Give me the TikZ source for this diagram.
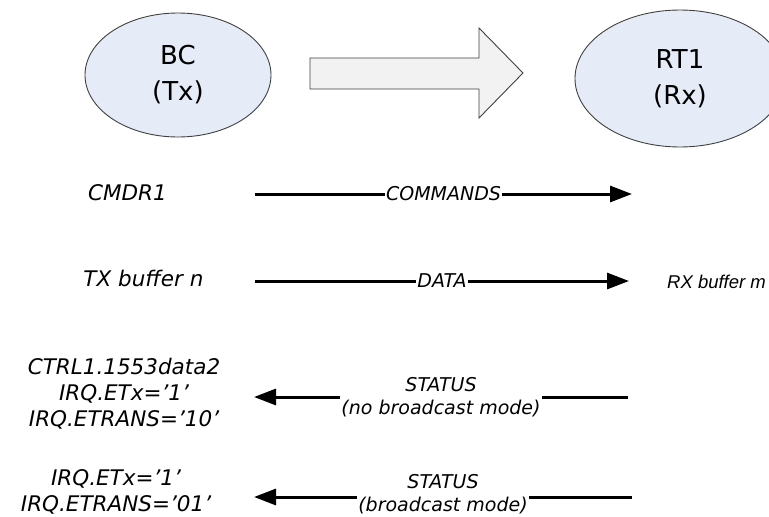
\documentclass[tikz,border=0pt]{standalone}
\usepackage{fontspec}
\setmainfont{DejaVu Sans}
\newfontfamily\arialfont{Liberation Sans}
\usetikzlibrary{shapes.geometric,arrows.meta}
\definecolor{bubblefill}{HTML}{E6ECF7}
\definecolor{arrowfill}{HTML}{F2F2F2}
\definecolor{edgegray}{HTML}{404040}
\begin{document}
\begin{tikzpicture}[x=1pt,y=-1pt,
  bubble/.style={ellipse, draw=edgegray, line width=0.9pt, fill=bubblefill, inner sep=0pt, align=center, font=\fontsize{26}{36}\selectfont},
  lbl/.style={font=\itshape\fontsize{21.5}{26}\selectfont, align=center, inner sep=0pt},
  flowlbl/.style={font=\itshape\fontsize{19}{23}\selectfont, align=center, fill=white, inner sep=1pt},
  flow/.style={line width=3pt, -{Triangle[length=22pt,width=16pt]}}]
\useasboundingbox (0,0) rectangle (769,517);
\clip (0,0) rectangle (769,517);

% top: ellipses and block arrow
\node[bubble, minimum width=186pt, minimum height=124pt] (bc) at (178,75) {BC\\(Tx)};
\node[bubble, minimum width=210pt, minimum height=137pt] (rt) at (680,78.5) {RT1\\(Rx)};
\draw[draw=edgegray, line width=0.9pt, fill=arrowfill, line join=miter]
  (310,58) -- (479,58) -- (479,28) -- (523,73) -- (479,118) -- (479,89) -- (310,89) -- cycle;

% left labels
\node[lbl] (cmdr) at (127.5,193) {CMDR1};
\node[lbl] (txbuf) at (143.5,278) {TX buffer n};
\node[lbl] (ctrl) at (124,394) {CTRL1.1553data2\\IRQ.ETx=’1’\\IRQ.ETRANS=’10’};
\node[lbl] (irqb) at (116,492) {IRQ.ETx=’1’\\IRQ.ETRANS=’01’};
\node[font=\arialfont\itshape\fontsize{18.5}{22}\selectfont, anchor=west, inner sep=0pt] (rxbuf) at (667,282) {RX buffer m};

% connector end points
\coordinate (c1s) at (255,194);
\coordinate (c1e) at (632,194);
\coordinate (c2s) at (255,281);
\coordinate (c2e) at (629,281);
\coordinate (s1r) at (628,397);
\coordinate (s1l) at (254,397);
\coordinate (s2r) at (632,497);
\coordinate (s2l) at (254,497);

\draw[flow] (c1s) -- node[flowlbl] (cmdlbl) {COMMANDS} (c1e);
\draw[flow] (c2s) -- node[flowlbl] (datalbl) {DATA} (c2e);
\draw[flow] (s1r) -- node[flowlbl] (st1lbl) {STATUS\\(no broadcast mode)} (s1l);
\draw[flow] (s2r) -- node[flowlbl, yshift=2.5pt] (st2lbl) {STATUS\\(broadcast mode)} (s2l);
\end{tikzpicture}
\end{document}
